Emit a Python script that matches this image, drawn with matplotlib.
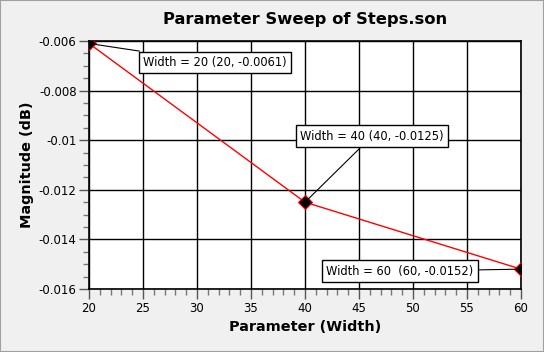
import matplotlib
matplotlib.use("Agg")
import matplotlib.pyplot as plt
from matplotlib.ticker import MultipleLocator, FuncFormatter

# data
widths = [20, 40, 60]
magnitudes = [-0.0061, -0.0125, -0.0152]
labels = ["Width = 20 (20, -0.0061)",
          "Width = 40 (40, -0.0125)",
          "Width = 60  (60, -0.0152)"]
# offsets of the label boxes from their points, in pixels
label_offsets = [(126, -19), (67, 66), (-121, -2)]

x_ticks = [20, 25, 30, 35, 40, 45, 50, 55, 60]
y_ticks = [-0.016, -0.014, -0.012, -0.01, -0.008, -0.006]

fig = plt.figure(figsize=(5.44, 3.52), dpi=100, facecolor="#f0f0f0")
fig.patches.append(plt.Rectangle((0, 0), 1, 1, transform=fig.transFigure,
                                 fill=False, edgecolor="#a0a0a0", linewidth=1.5))
ax = fig.add_axes([89 / 544, 1 - 289 / 352, 432 / 544, 248 / 352])
ax.set_facecolor("white")

ax.plot(widths, magnitudes, color="red", linewidth=1, marker="D",
        markersize=7, markerfacecolor="black", markeredgecolor="red",
        markeredgewidth=0.8, zorder=5)

ax.set_xlim(20, 60)
ax.set_ylim(-0.016, -0.006)
ax.set_xticks(x_ticks)
ax.set_yticks(y_ticks)
ax.xaxis.set_minor_locator(MultipleLocator(1))
ax.yaxis.set_minor_locator(MultipleLocator(0.0005))
ax.yaxis.set_major_formatter(FuncFormatter(lambda v, p: "{:g}".format(round(v, 4))))
ax.tick_params(which="major", direction="out", length=7, width=1, color="#555555",
               labelsize=8.5, pad=2)
ax.tick_params(which="minor", direction="out", length=4, width=1, color="#777777")
ax.grid(True, which="major", color="black", linewidth=1)
for s in ax.spines.values():
    s.set_linewidth(1.2)

ax.set_title("Parameter Sweep of Steps.son", fontsize=11.8, fontweight="bold", pad=12)
ax.set_xlabel("Parameter (Width)", fontsize=10.4, fontweight="bold", labelpad=4)
ax.set_ylabel("Magnitude (dB)", fontsize=10.4, fontweight="bold", labelpad=3)

for x, y, txt, off in zip(widths, magnitudes, labels, label_offsets):
    ax.annotate(txt, xy=(x, y), xytext=off, textcoords="offset pixels",
                ha="center", va="center", fontsize=8.3, zorder=10,
                bbox=dict(boxstyle="square,pad=0.38", fc="white", ec="black", lw=1),
                arrowprops=dict(arrowstyle="-", color="black", lw=0.8,
                                shrinkA=0, shrinkB=0))

fig.savefig("out.png", dpi=100, facecolor=fig.get_facecolor())
